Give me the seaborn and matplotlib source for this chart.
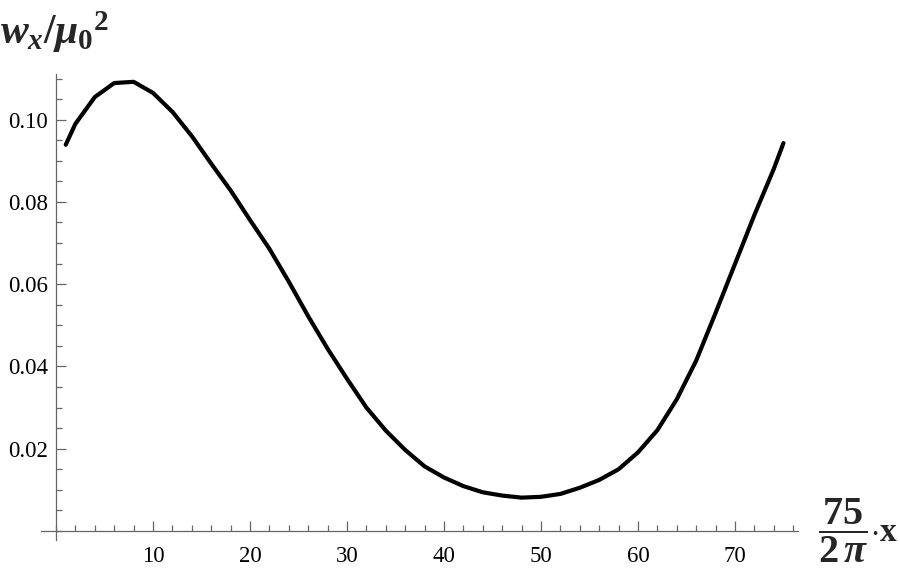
import numpy as np
import pandas as pd
import matplotlib
matplotlib.use("Agg")
import matplotlib.pyplot as plt
from matplotlib.ticker import FixedLocator, MultipleLocator, FormatStrFormatter
import seaborn as sns

# curve
x_vals = [1, 2, 4, 6, 8, 10, 12, 14, 16, 18, 20, 22, 24, 26, 28, 30, 32, 34, 36, 38,
          40, 42, 44, 46, 48, 50, 52, 54, 56, 58, 60, 62, 64, 66, 68, 70, 72, 74, 75]
w_vals = [0.0939, 0.0990, 0.1055, 0.1089, 0.1092, 0.1065, 0.1019, 0.0960, 0.0893, 0.0828,
          0.0756, 0.0686, 0.0606, 0.0522, 0.0443, 0.0370, 0.0300, 0.0244, 0.0197, 0.0157,
          0.0130, 0.0109, 0.0094, 0.0086, 0.0081, 0.0083, 0.0090, 0.0105, 0.0124, 0.0150,
          0.0191, 0.0245, 0.0320, 0.0414, 0.0530, 0.0649, 0.0768, 0.0880, 0.0943]
x_ticks = [10, 20, 30, 40, 50, 60, 70]
y_ticks = [0.02, 0.04, 0.06, 0.08, 0.10]

df = pd.DataFrame({"x": x_vals, "w": w_vals})

sns.set_style("white")
plt.rcParams["font.family"] = ["Liberation Serif", "DejaVu Serif"]
plt.rcParams["mathtext.fontset"] = "custom"
plt.rcParams["mathtext.rm"] = "Liberation Serif:bold"
plt.rcParams["mathtext.it"] = "Liberation Serif:italic:bold"
plt.rcParams["mathtext.bf"] = "Liberation Serif:bold"

fig = plt.figure(figsize=(9, 5.78), dpi=100)
ax = fig.add_axes([41 / 900, 38 / 578, 757 / 900, 466 / 578])

sns.lineplot(data=df, x="x", y="w", ax=ax, color="black", linewidth=3.0,
             sort=False, errorbar=None)

ax.set_xlim(-1.55, 76.5)
ax.set_ylim(-0.0022, 0.1111)

for side in ["top", "right"]:
    ax.spines[side].set_visible(False)
ax.spines["left"].set_position(("data", 0))
ax.spines["bottom"].set_position(("data", 0))
for side in ["left", "bottom"]:
    ax.spines[side].set_color("#666666")
    ax.spines[side].set_linewidth(0.9)

ax.xaxis.set_major_locator(FixedLocator(x_ticks))
ax.xaxis.set_minor_locator(MultipleLocator(2))
ax.yaxis.set_major_locator(FixedLocator(y_ticks))
ax.yaxis.set_minor_locator(MultipleLocator(0.005))
ax.yaxis.set_major_formatter(FormatStrFormatter("%.2f"))

ax.tick_params(which="both", direction="in", color="#666666", width=0.9,
               labelsize=16.5, labelcolor="black", bottom=True, left=True)
ax.tick_params(which="major", length=7)
ax.tick_params(which="minor", length=4)
ax.tick_params(axis="x", which="major", pad=11)
ax.tick_params(axis="y", which="major", pad=6)

ax.set_xlabel("")
ax.set_ylabel("")

fig.text(0.0, 1 - 32 / 578, r"$w_x/{\mu_0}^2$", fontsize=30,
         ha="left", va="center")
# x label: fraction then "·x"
fig.text(843 / 900, 1 - 531 / 578, r"$\dfrac{75}{2\,\pi}$",
         fontsize=29, ha="center", va="center")
fig.text(870 / 900, 1 - 533 / 578, r"$\cdot\mathrm{x}$",
         fontsize=24, ha="left", va="center")

fig.savefig("out.png", dpi=100)
